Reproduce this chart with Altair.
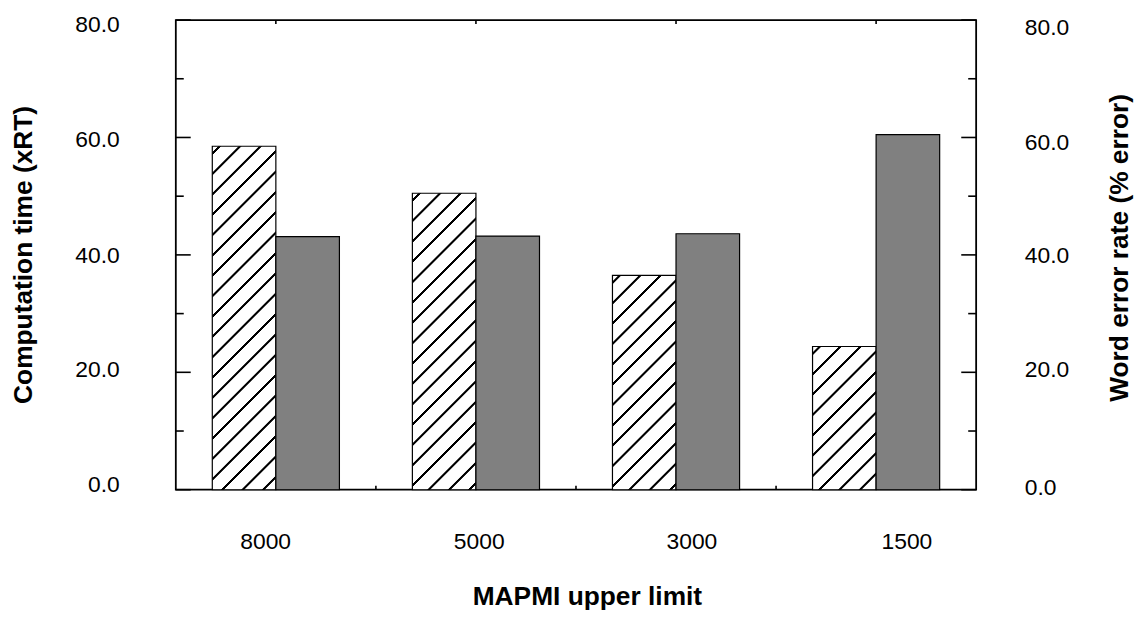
import altair as alt
import pandas as pd

# ---- data ----
categories = ["8000", "5000", "3000", "1500"]
computation_time = [58.5, 50.5, 36.5, 24.4]
word_error_rate = [43.1, 43.2, 43.6, 60.5]
series_names = ["Computation time", "Word error rate"]
major_ticks = [0, 20, 40, 60, 80]
minor_ticks = [10, 30, 50, 70]

# ---- layout / style ----
W, H = 806, 473
Y_MAX = 80
FONT = "Liberation Sans"
PAD_OUTER = 0.574
BAR_W = W / len(categories) / (2 + 2 * PAD_OUTER)

bars = pd.DataFrame({
    "limit": categories * 2,
    "series": [series_names[0]] * len(categories) + [series_names[1]] * len(categories),
    "value": computation_time + word_error_rate,
})


def hatch_fill(value, spacing=20.5, line=2.3, soft=0.7, phase=7.5):
    """45-degree hatching as a striped linear gradient (bbox units)."""
    h = value / Y_MAX * H
    w = BAR_W
    L = w + h
    k = L / (w * w + h * h)
    stops = [{"offset": 0.0, "color": "white"}]
    d = phase
    while d - line / 2 - soft < L:
        for pos, col in ((d - line / 2 - soft, "white"), (d - line / 2, "black"),
                         (d + line / 2, "black"), (d + line / 2 + soft, "white")):
            off = min(max(pos / L, 0.0), 1.0)
            stops.append({"offset": round(off, 6), "color": col})
        d += spacing
    stops.append({"offset": 1.0, "color": "white"})
    return {"gradient": "linear", "x1": 0, "y1": 0,
            "x2": round(w * k, 6), "y2": round(h * k, 6), "stops": stops}


def cond(mapping, quote=False):
    conds = []
    for k, v in mapping.items():
        key = f"'{k}'" if quote else str(k)
        conds.append({"test": f"datum.value === {key}", "value": v})
    return {"condition": conds, "value": 0}


x_scale = alt.Scale(domain=categories, paddingInner=0, paddingOuter=0)
off_scale = alt.Scale(domain=series_names, paddingInner=0, paddingOuter=PAD_OUTER)
y_scale = alt.Scale(domain=[0, Y_MAX], nice=False, zero=False)

common_label = dict(labelFont=FONT, labelFontSize=23, labelColor="black",
                    titleFont=FONT, titleFontSize=26.5, titleFontWeight="bold",
                    titleColor="black", ticks=False, tickSize=0, domain=False, grid=False)

left_axis = alt.Axis(orient="left", title="Computation time (xRT)", values=major_ticks,
                     format=".1f", labelPadding=57,
                     labelOffset=cond({80: 5.0, 60: 2.5, 40: 1.0, 20: -2.3, 0: -5.5}),
                     titleAngle=270, titleX=-145, titleY=236, titleBaseline="alphabetic",
                     titleAlign="center", **common_label)
right_axis = alt.Axis(orient="right", title="Word error rate (% error)", values=major_ticks,
                      format=".1f", labelPadding=48.5,
                      labelOffset=cond({80: 7.5, 60: 5.4, 40: 1.0, 20: -2.3, 0: -2.5}),
                      titleAngle=270, titleX=152, titleY=229, titleBaseline="alphabetic",
                      titleAlign="center", **common_label)
x_axis = alt.Axis(orient="bottom", title="MAPMI upper limit", labelAngle=0, labelPadding=41,
                  labelOffset=cond({"8000": -10.3, "5000": 3.3, "3000": 16.0, "1500": 31.0}, quote=True),
                  titleX=414, titleY=116, titleBaseline="alphabetic", titleAlign="center",
                  **common_label)

X_ENC = alt.X("limit:N", scale=x_scale, axis=x_axis)
xoff = alt.XOffset("series:N", scale=off_scale)

# hatched bars: one layer per bar so each gets its own 45-degree stripe gradient
hatched_layers = []
for cat, val in zip(categories, computation_time):
    hatched_layers.append(
        alt.Chart(bars)
        .transform_filter((alt.datum.series == series_names[0]) & (alt.datum.limit == cat))
        .mark_bar(fill=hatch_fill(val), stroke="black", strokeWidth=1.2)
        .encode(
            x=X_ENC,
            xOffset=xoff,
            y=alt.Y("value:Q", scale=y_scale, axis=left_axis),
        )
    )

# inward tick marks
major_df = pd.DataFrame({"v": major_ticks})
minor_df = pd.DataFrame({"v": minor_ticks})
cat_df = pd.DataFrame({"limit": categories})
bound_df = pd.DataFrame({"limit": categories[1:]})

tick_layers = []
for df_, length in ((major_df, 15), (minor_df, 8)):
    yy = alt.Y("v:Q", scale=y_scale, axis=left_axis)
    tick_layers.append(alt.Chart(df_).mark_rule(color="black", strokeWidth=1.6)
                       .encode(y=yy, x=alt.value(0), x2=alt.value(length)))
    tick_layers.append(alt.Chart(df_).mark_rule(color="black", strokeWidth=1.6)
                       .encode(y=yy, x=alt.value(W - length), x2=alt.value(W)))

tick_layers.append(
    alt.Chart(cat_df).mark_rule(color="black", strokeWidth=1.6)
    .encode(x=X_ENC, y=alt.value(0), y2=alt.value(4))
)
tick_layers.append(
    alt.Chart(bound_df).mark_rule(color="black", strokeWidth=1.6)
    .encode(x=alt.X("limit:N", scale=x_scale, axis=x_axis, bandPosition=0),
            y=alt.value(H - 4), y2=alt.value(H))
)

left_group = alt.layer(*hatched_layers, *tick_layers)

grey = (
    alt.Chart(bars)
    .transform_filter(alt.datum.series == series_names[1])
    .mark_bar(fill="#808080", stroke="black", strokeWidth=1.2)
    .encode(
        x=X_ENC,
        xOffset=xoff,
        y=alt.Y("value:Q", scale=y_scale, axis=right_axis),
    )
)

chart = (
    alt.layer(left_group, grey)
    .resolve_scale(y="independent")
    .properties(
        width=W, height=H,
        autosize=alt.AutoSizeParams(type="none"),
        padding={"left": 169, "top": 10, "right": 163, "bottom": 121},
        background="white",
    )
    .configure_view(stroke="black", strokeWidth=1.8)
)

chart.save("out.html", embed_options={"renderer": "svg", "actions": False})
